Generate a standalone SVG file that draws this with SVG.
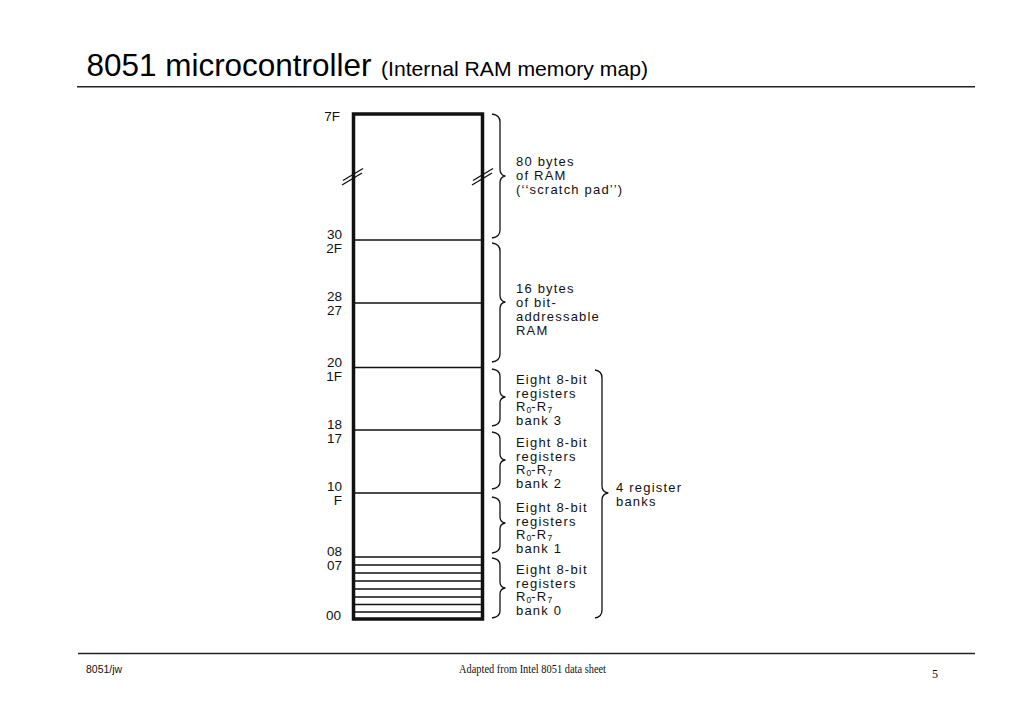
<svg xmlns="http://www.w3.org/2000/svg" width="1024" height="709" viewBox="0 0 1024 709">
<style>
.lbl{font-family:"Liberation Sans",Arial,sans-serif;font-size:13.5px;fill:#111;text-anchor:end}
.txt{font-family:"Liberation Sans",Arial,sans-serif;font-size:13px;fill:#111;letter-spacing:1.2px}
.sub{font-size:8.5px;letter-spacing:0}
.brace{fill:none;stroke:#111;stroke-width:1.3;stroke-linejoin:round}
.div{stroke:#111;stroke-width:1.5}
.slash{stroke:#111;stroke-width:1.4}
.rule{stroke:#222;stroke-width:1.5}
</style>
<rect width="1024" height="709" fill="#fff"/>

<g id="title">
<text x="86.5" y="76" font-family="'Liberation Sans',Arial,sans-serif" font-size="32" fill="#000" textLength="285" lengthAdjust="spacingAndGlyphs">8051 microcontroller</text>
<text x="381" y="76" font-family="'Liberation Sans',Arial,sans-serif" font-size="21" fill="#000" textLength="267" lengthAdjust="spacingAndGlyphs">(Internal RAM memory map)</text>
<line class="rule" x1="77" y1="86.7" x2="975" y2="86.7"/>
</g>

<g id="memory-box">
<rect x="353.5" y="114" width="129" height="505" fill="none" stroke="#111" stroke-width="3.5"/>
<line class="div" x1="355" y1="240" x2="481" y2="240"/>
<line class="div" x1="355" y1="303" x2="481" y2="303"/>
<line class="div" x1="355" y1="367.5" x2="481" y2="367.5"/>
<line class="div" x1="355" y1="430" x2="481" y2="430"/>
<line class="div" x1="355" y1="493" x2="481" y2="493"/>
<line class="div" x1="355" y1="557" x2="481" y2="557"/>
<line class="div" x1="355" y1="565" x2="481" y2="565"/>
<line class="div" x1="355" y1="573" x2="481" y2="573"/>
<line class="div" x1="355" y1="581" x2="481" y2="581"/>
<line class="div" x1="355" y1="589" x2="481" y2="589"/>
<line class="div" x1="355" y1="597" x2="481" y2="597"/>
<line class="div" x1="355" y1="604.5" x2="481" y2="604.5"/>
<line class="div" x1="355" y1="612" x2="481" y2="612"/>
<line class="slash" x1="342" y1="185" x2="362" y2="173"/>
<line class="slash" x1="343" y1="180.5" x2="363" y2="168.5"/>
<line class="slash" x1="472" y1="185" x2="492" y2="173"/>
<line class="slash" x1="473" y1="180.5" x2="493" y2="168.5"/>
</g>

<g id="addresses">
<text class="lbl" x="340" y="121">7F</text>
<text class="lbl" x="342" y="238.5">30</text>
<text class="lbl" x="342" y="252.5">2F</text>
<text class="lbl" x="342" y="300.5">28</text>
<text class="lbl" x="342" y="314.5">27</text>
<text class="lbl" x="342" y="366.5">20</text>
<text class="lbl" x="342" y="380.5">1F</text>
<text class="lbl" x="342" y="429">18</text>
<text class="lbl" x="342" y="443">17</text>
<text class="lbl" x="342" y="491">10</text>
<text class="lbl" x="342" y="505">F</text>
<text class="lbl" x="342" y="555.5">08</text>
<text class="lbl" x="342" y="569.5">07</text>
<text class="lbl" x="341" y="620">00</text>
</g>

<g id="scratch-pad">
<path class="brace" d="M492,114 Q500,115 500,122 L500,169 Q500,175 505,176 Q500,177 500,183 L500,230 Q500,237 492,238"/>
<text class="txt" x="516" y="166">80 bytes</text>
<text class="txt" x="516" y="180">of RAM</text>
<text class="txt" x="516" y="194">(‘‘scratch pad’’)</text>
</g>

<g id="bit-addressable">
<path class="brace" d="M492,243 Q500,244 500,251 L500,295 Q500,301 505,302 Q500,303 500,309 L500,354 Q500,361 492,362"/>
<text class="txt" x="516" y="293">16 bytes</text>
<text class="txt" x="516" y="307">of bit-</text>
<text class="txt" x="516" y="321">addressable</text>
<text class="txt" x="516" y="335">RAM</text>
</g>

<g id="bank3">
<path class="brace" d="M492,369 Q500,370 500,376 L500,391 Q500,396 505,397 Q500,398 500,403 L500,419 Q500,425 492,426"/>
<text class="txt" x="516" y="384">Eight 8-bit</text>
<text class="txt" x="516" y="398">registers</text>
<text class="txt" x="516" y="411">R<tspan class="sub" dy="2">0</tspan><tspan dy="-2">-R</tspan><tspan class="sub" dy="2">7</tspan></text>
<text class="txt" x="516" y="425">bank 3</text>
</g>

<g id="bank2">
<path class="brace" d="M492,432 Q500,433 500,439 L500,454 Q500,459 505,460 Q500,461 500,466 L500,482 Q500,488 492,489"/>
<text class="txt" x="516" y="447">Eight 8-bit</text>
<text class="txt" x="516" y="461">registers</text>
<text class="txt" x="516" y="474">R<tspan class="sub" dy="2">0</tspan><tspan dy="-2">-R</tspan><tspan class="sub" dy="2">7</tspan></text>
<text class="txt" x="516" y="488">bank 2</text>
</g>

<g id="bank1">
<path class="brace" d="M492,497 Q500,498 500,504 L500,517 Q500,522 505,523 Q500,524 500,529 L500,546 Q500,552 492,553"/>
<text class="txt" x="516" y="512">Eight 8-bit</text>
<text class="txt" x="516" y="526">registers</text>
<text class="txt" x="516" y="539">R<tspan class="sub" dy="2">0</tspan><tspan dy="-2">-R</tspan><tspan class="sub" dy="2">7</tspan></text>
<text class="txt" x="516" y="553">bank 1</text>
</g>

<g id="bank0">
<path class="brace" d="M492,558 Q500,559 500,565 L500,582 Q500,587 505,588 Q500,589 500,594 L500,611 Q500,617 492,618"/>
<text class="txt" x="516" y="574">Eight 8-bit</text>
<text class="txt" x="516" y="588">registers</text>
<text class="txt" x="516" y="601">R<tspan class="sub" dy="2">0</tspan><tspan dy="-2">-R</tspan><tspan class="sub" dy="2">7</tspan></text>
<text class="txt" x="516" y="615">bank 0</text>
</g>

<g id="register-banks">
<path class="brace" d="M595,370 Q602,371 602,378 L602,486 Q602,492 608,493 Q602,494 602,500 L602,610 Q602,617 595,618"/>
<text class="txt" x="616" y="492">4 register</text>
<text class="txt" x="616" y="506">banks</text>
</g>

<g id="footer">
<line class="rule" x1="78" y1="653.5" x2="975" y2="653.5"/>
<text x="86" y="673" font-family="'Liberation Sans',Arial,sans-serif" font-size="10.5" fill="#111">8051/jw</text>
<text x="459" y="673" font-family="'Liberation Serif','Times New Roman',serif" font-size="11.5" fill="#111" textLength="147" lengthAdjust="spacingAndGlyphs">Adapted from Intel 8051 data sheet</text>
<text x="932" y="678" font-family="'Liberation Serif','Times New Roman',serif" font-size="12" fill="#111">5</text>
</g>
</svg>
